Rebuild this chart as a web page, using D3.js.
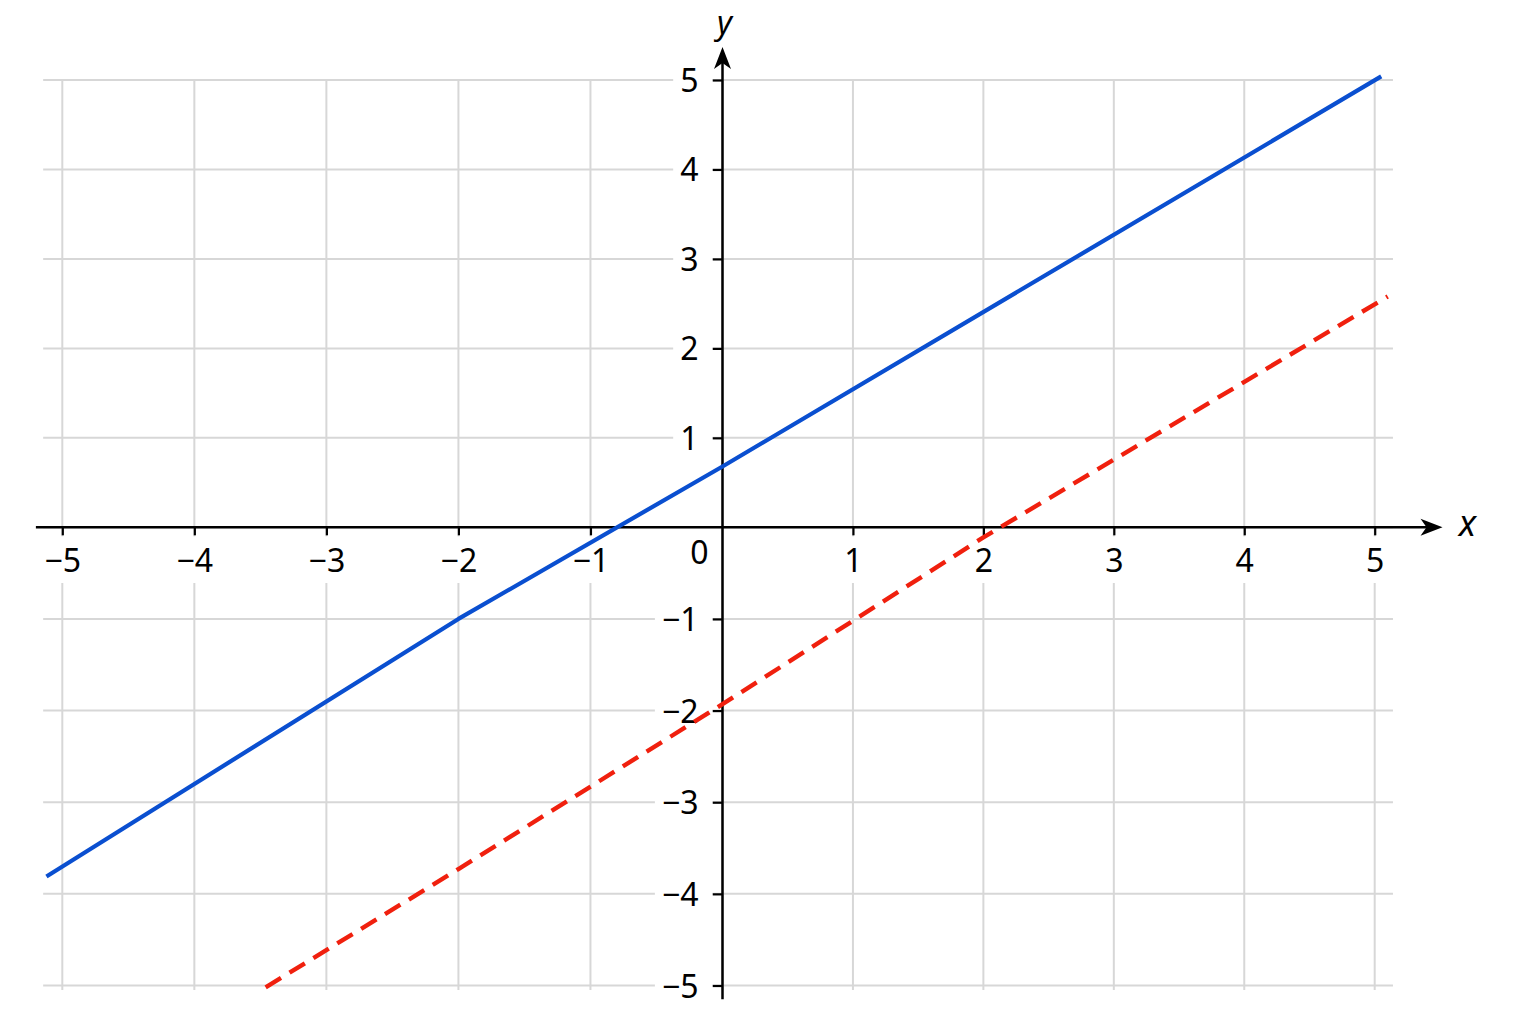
<!DOCTYPE html>
<html>
<head>
<meta charset="utf-8">
<script src="https://cdn.jsdelivr.net/npm/d3@7"></script>
<style>
  body { margin: 0; background: #fff; }
  svg { display: block; }
  text { font-family: "Noto Sans", sans-serif; }
</style>
</head>
<body>
<script>
// values
const ticks = [-5, -4, -3, -2, -1, 0, 1, 2, 3, 4, 5];
const labelTicks = [-5, -4, -3, -2, -1, 1, 2, 3, 4, 5];
const blueX = [-5.12, -2, 0, 5.05];
const blueY = [-3.81, -1.00, 0.68, 5.04];
const redX = [-3.46, -2, 0, 2, 5.10];
const redY = [-5.02, -3.73, -1.93, -0.11, 2.58];

const svgSize = { width: 1536, height: 1024 };

const svg = d3.select('body')
    .append('svg')
    .attr('width', svgSize.width)
    .attr('height', svgSize.height);

const x = d3.scaleLinear().domain([-5, 0, 5]).range([62.3, 722.5, 1374.7]);
const y = d3.scaleLinear().domain([-5, 0, 5]).range([985.5, 527.3, 80]);

const gridColor = '#d7d7d7';
const fontSize = 32;

// grid
const grid = svg.append('g');
grid.selectAll('line.v')
    .data(ticks)
    .enter()
    .append('line')
    .attr('x1', d => x(d)).attr('x2', d => x(d))
    .attr('y1', y(5)).attr('y2', y(-5.05))
    .attr('stroke', gridColor)
    .attr('stroke-width', 2);
grid.selectAll('line.h')
    .data(ticks)
    .enter()
    .append('line')
    .attr('x1', x(-5.145)).attr('x2', x(5.14))
    .attr('y1', d => y(d)).attr('y2', d => y(d))
    .attr('stroke', gridColor)
    .attr('stroke-width', 2);

// axes through the origin
const fmt = d3.format('d');
const xAxis = d3.axisBottom(x)
    .tickValues(labelTicks)
    .tickFormat(fmt)
    .tickSize(8)
    .tickPadding(14)
    .tickSizeOuter(0);
const gx = svg.append('g')
    .attr('transform', `translate(0, ${y(0)})`)
    .call(xAxis);

const yAxis = d3.axisLeft(y)
    .tickValues(labelTicks)
    .tickFormat(fmt)
    .tickSize(10)
    .tickPadding(14)
    .tickSizeOuter(0);
const gy = svg.append('g')
    .attr('transform', `translate(${x(0)}, 0)`)
    .call(yAxis);

for (const g of [gx, gy]) {
    g.select('.domain').remove();
    g.selectAll('line').attr('stroke', '#000').attr('stroke-width', 2.2);
    g.selectAll('text')
        .attr('font-size', fontSize)
        .attr('font-family', '"Noto Sans", sans-serif')
        .attr('fill', '#000');
}
gy.selectAll('text').attr('dy', '0.36em');

// white boxes behind tick labels so the grid breaks around them
gx.selectAll('.tick').each(function () {
    const t = d3.select(this);
    const b = t.select('text').node().getBBox();
    t.insert('rect', 'text')
        .attr('x', b.x - 4)
        .attr('y', 9)
        .attr('width', b.width + 8)
        .attr('height', b.y + b.height - 9 + 2)
        .attr('fill', '#fff');
});
gy.selectAll('.tick').each(function () {
    const t = d3.select(this);
    const b = t.select('text').node().getBBox();
    t.insert('rect', 'text')
        .attr('x', b.x - 7)
        .attr('y', b.y + 2)
        .attr('width', -10 - (b.x - 7))
        .attr('height', b.height - 4)
        .attr('fill', '#fff');
});

// axis lines with arrow heads
svg.append('line')
    .attr('x1', x(-5.2)).attr('x2', x(5.45))
    .attr('y1', y(0)).attr('y2', y(0))
    .attr('stroke', '#000').attr('stroke-width', 2.5);
svg.append('line')
    .attr('x1', x(0)).attr('x2', x(0))
    .attr('y1', y(-5.15)).attr('y2', y(5.25))
    .attr('stroke', '#000').attr('stroke-width', 2.5);

const xTip = x(5.52), yTip = y(5.37);
svg.append('path')
    .attr('d', `M${xTip},${y(0)} L${xTip - 22},${y(0) - 8.5} L${xTip - 16},${y(0)} L${xTip - 22},${y(0) + 8.5} Z`)
    .attr('fill', '#000');
svg.append('path')
    .attr('d', `M${x(0)},${yTip} L${x(0) - 8.5},${yTip + 22} L${x(0)},${yTip + 16} L${x(0) + 8.5},${yTip + 22} Z`)
    .attr('fill', '#000');

svg.append('text')
    .attr('x', xTip + 25)
    .attr('y', y(0) + 9)
    .attr('text-anchor', 'middle')
    .attr('font-size', 36)
    .attr('font-style', 'italic')
    .attr('fill', '#000')
    .text('x');
svg.append('text')
    .attr('x', x(0) + 2)
    .attr('y', 34)
    .attr('text-anchor', 'middle')
    .attr('font-size', 32)
    .attr('font-style', 'italic')
    .attr('fill', '#000')
    .text('y');

// origin label
svg.append('text')
    .attr('x', x(0) - 23)
    .attr('y', y(0) + 37)
    .attr('text-anchor', 'middle')
    .attr('font-size', fontSize)
    .attr('fill', '#000')
    .text('0');

// lines
const line = d3.line()
    .x(d => x(d[0]))
    .y(d => y(d[1]));

svg.append('path')
    .datum(d3.zip(blueX, blueY))
    .attr('d', line)
    .attr('fill', 'none')
    .attr('stroke', '#0a4fd0')
    .attr('stroke-width', 4.2)
    .attr('stroke-linejoin', 'round');

svg.append('path')
    .datum(d3.zip(redX, redY))
    .attr('d', line)
    .attr('fill', 'none')
    .attr('stroke', '#f0200e')
    .attr('stroke-width', 4.4)
    .attr('stroke-dasharray', '18 10');
</script>
</body>
</html>
